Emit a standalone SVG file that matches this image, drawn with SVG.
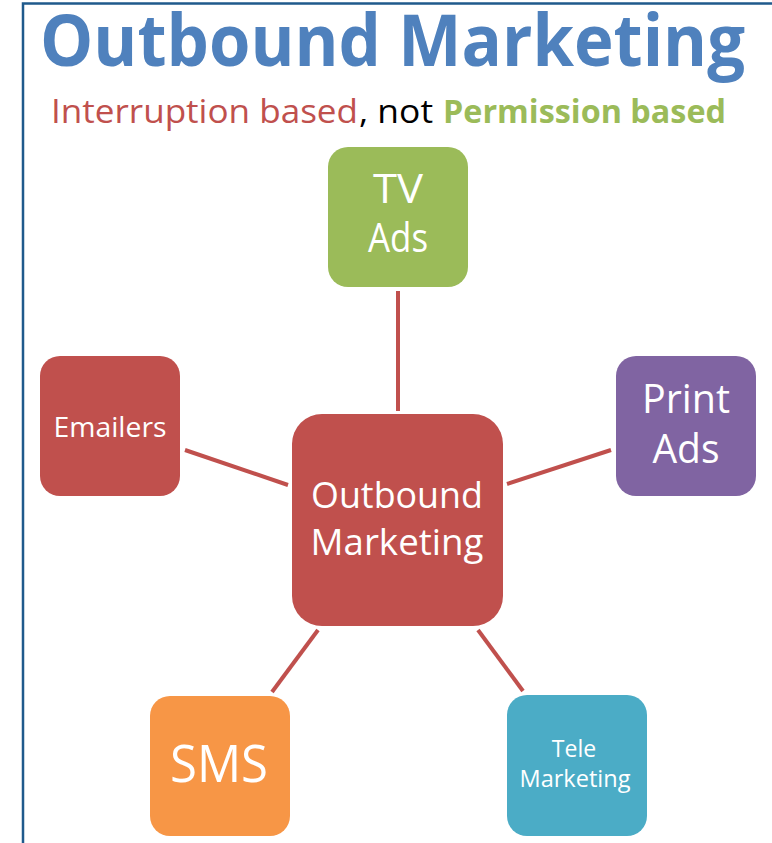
<svg xmlns="http://www.w3.org/2000/svg" width="772" height="843" viewBox="0 0 772 843">
  <style>
    .box { stroke: none; }
    .lbl { font-family: "Open Sans", "Noto Sans", "Liberation Sans", sans-serif; fill: #ffffff; text-anchor: middle; }
    .edge { stroke: #c0504d; stroke-width: 4; fill: none; }
    .head { font-family: "Open Sans", "Noto Sans", "Liberation Sans", sans-serif; }
  </style>

  <rect x="0" y="0" width="772" height="843" fill="#ffffff"/>
  <!-- frame -->
  <path d="M23 843 V3.5 H772" fill="none" stroke="#1f5a8c" stroke-width="2.5"/>

  <!-- heading -->
  <text class="head" x="40" y="66" font-size="72" font-weight="bold" fill="#4f81bd" textLength="705" lengthAdjust="spacingAndGlyphs">Outbound Marketing</text>
  <text class="head" x="51" y="123" font-size="33" fill="#c0504d" textLength="307" lengthAdjust="spacingAndGlyphs">Interruption based</text>
  <text class="head" x="359" y="123" font-size="33" fill="#000000" textLength="74" lengthAdjust="spacingAndGlyphs">, not</text>
  <text class="head" x="443" y="123" font-size="33" font-weight="bold" fill="#9bbb59" textLength="283" lengthAdjust="spacingAndGlyphs">Permission based</text>

  <!-- connectors -->
  <g id="connectors">
    <line class="edge" x1="398" y1="291" x2="398" y2="411"/>
    <line class="edge" x1="185" y1="450" x2="288" y2="485"/>
    <line class="edge" x1="507" y1="484" x2="611" y2="450"/>
    <line class="edge" x1="318" y1="630" x2="272" y2="692"/>
    <line class="edge" x1="478" y1="630" x2="523" y2="691"/>
  </g>

  <g id="tv-ads">
    <rect class="box" x="328" y="147" width="140" height="140" rx="20" fill="#9bbb59"/>
    <text class="lbl" x="398" y="203" font-size="40" textLength="50" lengthAdjust="spacingAndGlyphs">TV</text>
    <text class="lbl" x="398" y="252" font-size="40" textLength="60" lengthAdjust="spacingAndGlyphs">Ads</text>
  </g>

  <g id="emailers">
    <rect class="box" x="40" y="356" width="140" height="140" rx="20" fill="#c0504d"/>
    <text class="lbl" x="110" y="437" font-size="27" textLength="113" lengthAdjust="spacingAndGlyphs">Emailers</text>
  </g>

  <g id="print-ads">
    <rect class="box" x="616" y="356" width="140" height="140" rx="20" fill="#8064a2"/>
    <text class="lbl" x="686" y="413" font-size="40" textLength="88" lengthAdjust="spacingAndGlyphs">Print</text>
    <text class="lbl" x="686" y="463" font-size="40" textLength="67" lengthAdjust="spacingAndGlyphs">Ads</text>
  </g>

  <g id="outbound-marketing">
    <rect class="box" x="292" y="414" width="211" height="212" rx="30" fill="#c0504d"/>
    <text class="lbl" x="397" y="508" font-size="36" textLength="172" lengthAdjust="spacingAndGlyphs">Outbound</text>
    <text class="lbl" x="397" y="555" font-size="36" textLength="173" lengthAdjust="spacingAndGlyphs">Marketing</text>
  </g>

  <g id="sms">
    <rect class="box" x="150" y="696" width="140" height="140" rx="20" fill="#f79646"/>
    <text class="lbl" x="219" y="782" font-size="52" textLength="98" lengthAdjust="spacingAndGlyphs">SMS</text>
  </g>

  <g id="tele-marketing">
    <rect class="box" x="507" y="695" width="140" height="141" rx="20" fill="#4bacc6"/>
    <text class="lbl" x="574" y="757" font-size="23">Tele</text>
    <text class="lbl" x="575" y="787" font-size="23" textLength="111" lengthAdjust="spacingAndGlyphs">Marketing</text>
  </g>
</svg>
